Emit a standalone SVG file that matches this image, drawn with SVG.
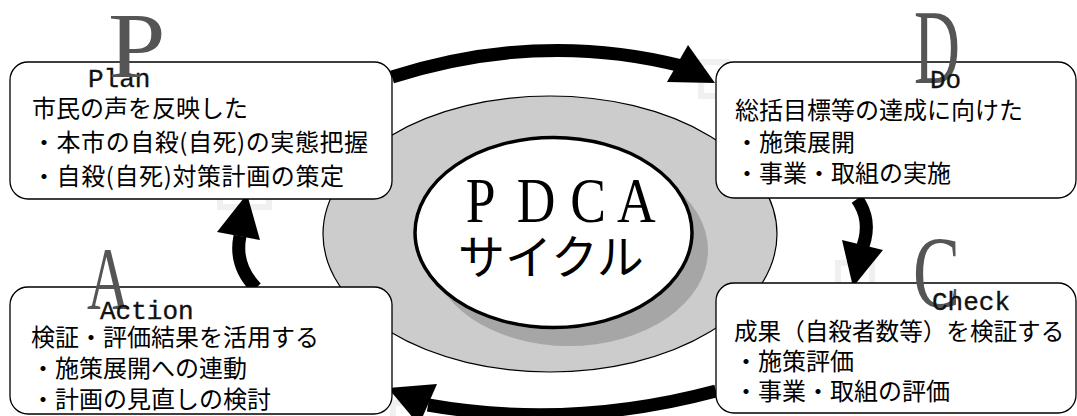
<svg xmlns="http://www.w3.org/2000/svg" width="1077" height="416" viewBox="0 0 1077 416">
<style>
.box{fill:#fff;stroke:#000;stroke-width:1.3}
.jp{font-family:"Noto Sans CJK JP",sans-serif;font-size:24px;fill:#000}
.ttl{font-family:"Liberation Mono",monospace;font-size:26px;fill:#111;stroke:#111;stroke-width:0.35}
.big{font-family:"Liberation Serif",serif;fill:#555}
.band{fill:none;stroke:#000;stroke-width:13}
.head{fill:#000}
.ghost{fill:none;stroke:#f0f0f0;stroke-width:6}
</style>
<rect width="1077" height="416" fill="#fff"/>
<g id="ghosts">
<rect class="ghost" x="701" y="62" width="26" height="34"/>
<rect class="ghost" x="220" y="190" width="49" height="17"/>
<rect class="ghost" x="838" y="263" width="34" height="30"/>
<rect class="ghost" x="393" y="403" width="20" height="20"/>
</g>
<g id="center">
<ellipse cx="550" cy="234" rx="227" ry="138" fill="#cccccc" stroke="#000" stroke-width="1.2"/>
<ellipse cx="569" cy="250" rx="139" ry="96" fill="#a6a6a6"/>
<ellipse cx="553.5" cy="232.5" rx="138.5" ry="95" fill="#fff" stroke="#000" stroke-width="3.5"/>
<text transform="translate(0 222) scale(0.85 1)" x="548 608 671 726" y="0" font-family="Liberation Serif,serif" font-size="63" fill="#000">PDCA</text>
<text x="458" y="274" font-family="Noto Sans CJK JP,sans-serif" font-size="47" fill="#000">サイクル</text>
</g>
<g id="connectors">
<path class="band" d="M392 77 Q540 30 682 66"/>
<polygon class="head" points="715,83 688,45 667,82"/>
<path class="band" d="M857 199 Q872 220 863 246"/>
<polygon class="head" points="853,287 842,240 883,250"/>
<path class="band" d="M716 391 Q570 430 428 405"/>
<polygon class="head" points="388,388 437,384 419,425"/>
<path class="band" d="M256 288 Q234 265 240 236"/>
<polygon class="head" points="247,194 217,232 260,240"/>
</g>
<g id="node-plan">
<rect class="box" x="10" y="62" width="382" height="137" rx="18"/>
<text class="ttl" x="88" y="87">Plan</text>
<text class="jp" x="32" y="117">市民の声を反映した</text>
<text class="jp" x="32" y="151" textLength="336" lengthAdjust="spacing">・本市の自殺(自死)の実態把握</text>
<text class="jp" x="32" y="185" textLength="312" lengthAdjust="spacing">・自殺(自死)対策計画の策定</text>
<text class="big" transform="translate(108 77) scale(1.1 1)" font-size="94">P</text>
</g>
<g id="node-do">
<rect class="box" x="716" y="62" width="360" height="136" rx="18"/>
<text class="big" transform="translate(914 83) scale(0.6 1)" font-size="106">D</text>
<text class="ttl" x="930" y="88">Do</text>
<text class="jp" x="735" y="119">総括目標等の達成に向けた</text>
<text class="jp" x="735" y="151">・施策展開</text>
<text class="jp" x="735" y="182">・事業・取組の実施</text>
</g>
<g id="node-check">
<rect class="box" x="716" y="283" width="360" height="130" rx="18"/>
<text class="big" transform="translate(913 307) scale(0.7 1)" font-size="101">C</text>
<text class="ttl" x="932" y="310">Check</text>
<text class="jp" x="734" y="340" style="font-size:23.6px">成果（自殺者数等）を検証する</text>
<text class="jp" x="734" y="370">・施策評価</text>
<text class="jp" x="734" y="400">・事業・取組の評価</text>
</g>
<g id="node-action">
<rect class="box" x="10" y="287" width="382" height="127" rx="18"/>
<text class="big" transform="translate(87 308) scale(0.66 1)" font-size="89">A</text>
<text class="ttl" x="100" y="319">Action</text>
<text class="jp" x="31" y="346">検証・評価結果を活用する</text>
<text class="jp" x="31" y="377">・施策展開への連動</text>
<text class="jp" x="31" y="408">・計画の見直しの検討</text>
</g>
</svg>
